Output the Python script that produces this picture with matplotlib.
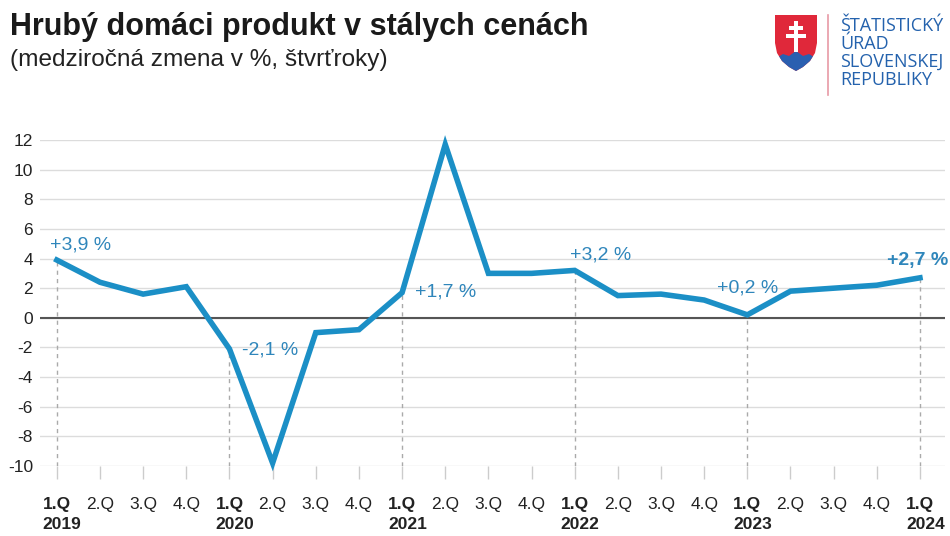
import numpy as np
import matplotlib.pyplot as plt
from matplotlib.patches import Polygon, Rectangle
from matplotlib.transforms import offset_copy

plt.rcParams['font.family'] = ['Liberation Sans', 'DejaVu Sans']

# data
quarters = ['1.Q', '2.Q', '3.Q', '4.Q'] * 5 + ['1.Q']
years = ['2019', '2020', '2021', '2022', '2023', '2024']
gdp = [3.9, 2.4, 1.6, 2.1,
       -2.1, -9.8, -1.0, -0.8,
       1.7, 11.7, 3.0, 3.0,
       3.2, 1.5, 1.6, 1.2,
       0.2, 1.8, 2.0, 2.2,
       2.7]
labels = ['+3,9 %', '-2,1 %', '+1,7 %', '+3,2 %', '+0,2 %', '+2,7 %']

blue = '#1b8fc6'
lblue = '#2f86bb'
x = np.arange(len(gdp))

fig = plt.figure(figsize=(9.5, 5.36), dpi=100)
ax = fig.add_axes([40/950, 1-466/536, 905/950, 326/536])

ax.set_xlim(-0.39, 20.58)
ax.set_ylim(-10, 12)
ax.set_yticks(np.arange(-10, 13, 2))
ax.set_yticklabels([str(v) for v in range(-10, 13, 2)], fontsize=12.5, color='#222')
ax.tick_params(axis='y', length=0, pad=5)
ax.set_xticks(x)
ax.set_xticklabels([])
ax.tick_params(axis='x', length=9, width=1, color='#cccccc', direction='out')
for s in ax.spines.values():
    s.set_visible(False)

for v in range(-10, 13, 2):
    ax.axhline(v, color='#dcdcdc', lw=1, zorder=0)
ax.axhline(0, color='#555555', lw=1.5, zorder=1)

# dashed verticals at first quarters
for i in range(0, len(gdp), 4):
    ax.plot([i, i], [-10, gdp[i]], color='#aaaaaa', lw=1, ls=(0, (3, 3)), zorder=1)

ax.plot(x, gdp, color=blue, lw=4, solid_joinstyle='miter', zorder=3, clip_on=False)

# annotations
fs = 14
ax.text(-0.16, 4.9, labels[0], fontsize=fs, color=lblue, ha='left', va='center')
ax.text(4.29, -2.2, labels[1], fontsize=fs, color=lblue, ha='left', va='center')
ax.text(8.3, 1.75, labels[2], fontsize=fs, color=lblue, ha='left', va='center')
ax.text(11.89, 4.25, labels[3], fontsize=fs, color=lblue, ha='left', va='center')
ax.text(16.0, 2.0, labels[4], fontsize=fs, color=lblue, ha='center', va='center')
ax.text(19.95, 3.85, labels[5], fontsize=fs, color=lblue, ha='center', va='center',
        fontweight='bold')

# x labels
tr = ax.get_xaxis_transform()
tr_year = offset_copy(tr, fig=fig, x=-14, y=0, units='dots')
for i, q in enumerate(quarters):
    bold = q == '1.Q'
    ax.text(i, -0.118, q, transform=tr, fontsize=12.5, color='#222',
            ha='center', va='center', fontweight='bold' if bold else 'normal')
for k, yr in enumerate(years):
    ax.text(k*4, -0.18, yr, transform=tr_year, fontsize=12.5, color='#222',
            ha='left', va='center', fontweight='bold')

# title
fig.text(10/950, 1-27/536, 'Hrubý domáci produkt v stálych cenách', fontsize=22,
         fontweight='bold', color='#1a1a1a', va='center', ha='left')
fig.text(10/950, 1-60/536, '(medziročná zmena v %, štvrťroky)', fontsize=17.6,
         color='#222', va='center', ha='left')

# logo
lax = fig.add_axes([775/950, 1-72/536, 42/950, 57/536])
lax.set_xlim(0, 42)
lax.set_ylim(57, 0)
lax.axis('off')
shield = [(0, 0), (42, 0), (42, 28), (40, 38), (35, 46), (28, 52), (21, 56),
          (14, 52), (7, 46), (2, 38), (0, 28)]
sh = Polygon(shield, closed=True, facecolor='#e0283a', edgecolor='none')
lax.add_patch(sh)
hills = Polygon([(0, 44), (8, 39), (14, 41), (21, 36), (28, 41), (34, 39), (42, 44),
                 (42, 60), (0, 60)], closed=True, facecolor='#2a5fb0', edgecolor='none')
lax.add_patch(hills)
hills.set_clip_path(sh)
lax.add_patch(Rectangle((19, 6), 4, 31, facecolor='white', edgecolor='none'))
lax.add_patch(Rectangle((14, 11), 14, 4, facecolor='white', edgecolor='none'))
lax.add_patch(Rectangle((11, 19), 20, 4.5, facecolor='white', edgecolor='none'))

fig.add_artist(plt.Line2D([828/950, 828/950], [1-15/536, 1-95/536], color='#e79aa5', lw=1.2))
logo_lines = ['ŠTATISTICKÝ', 'ÚRAD', 'SLOVENSKEJ', 'REPUBLIKY']
for k, s in enumerate(logo_lines):
    fig.text(840/950, 1-(26+18*k)/536, s, fontsize=13, color='#2462ad',
             family=['Open Sans', 'DejaVu Sans'], va='center', ha='left')

fig.savefig('out.png', dpi=100, facecolor='white')
